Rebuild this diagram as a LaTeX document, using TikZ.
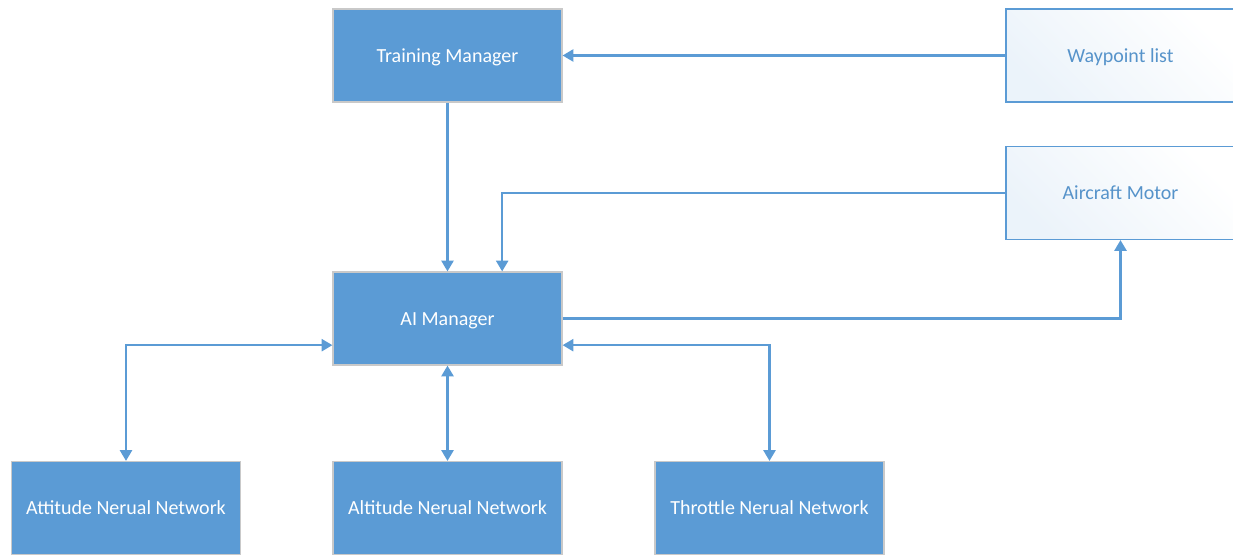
\documentclass[tikz,border=0pt]{standalone}
\usepackage{fontspec}
\setmainfont{Carlito}
\usetikzlibrary{arrows.meta}

\definecolor{boxblue}{HTML}{5B9BD5}
\definecolor{edgegray}{HTML}{C9C9C9}

\begin{document}
\begin{tikzpicture}[x=0.75pt,y=-0.75pt]
  \tikzstyle{bloc}=[rectangle, draw=edgegray, line width=0.9pt, fill=boxblue, text=white,
    minimum width=171.75pt, minimum height=69.75pt, inner sep=0, text height=1.05em, text depth=0pt,
    font=\fontsize{15}{18}\selectfont];
  \tikzstyle{source}=[bloc, draw=boxblue, left color=boxblue!12, right color=white, shading angle=135, text=boxblue!95!black];
  \tikzstyle{lien}=[draw=boxblue, line width=1.6pt, -{Triangle[length=8pt,width=9pt]}];
  \tikzstyle{lien2}=[lien, {Triangle[length=8pt,width=9pt]}-{Triangle[length=8pt,width=9pt]}];

  \useasboundingbox (0,0) rectangle (1233,555);

  \node[bloc] (training) at (447.5,55.5) {Training Manager};
  \node[source] (waypoint) at (1120.5,55.5) {Waypoint list};
  \node[source] (motor) at (1120.5,193) {Aircraft Motor};
  \node[bloc] (ai) at (447.5,318.5) {AI Manager};
  \node[bloc] (attitude) at (126,508) {Attitude Nerual Network};
  \node[bloc] (altitude) at (447.5,508) {Altitude Nerual Network};
  \node[bloc] (throttle) at (769.5,508) {Throttle Nerual Network};

  \draw[lien] (waypoint) -- (training);
  \draw[lien] (training) -- (ai);
  \draw[lien] (motor.west) -| ([xshift=41pt]ai.north);
  \draw[lien] (ai.east) -| (motor.south);
  \draw[lien2] ([yshift=-20pt]ai.west) -| (attitude.north);
  \draw[lien2] (ai) -- (altitude);
  \draw[lien2] ([yshift=-20pt]ai.east) -| (throttle.north);
\end{tikzpicture}
\end{document}
